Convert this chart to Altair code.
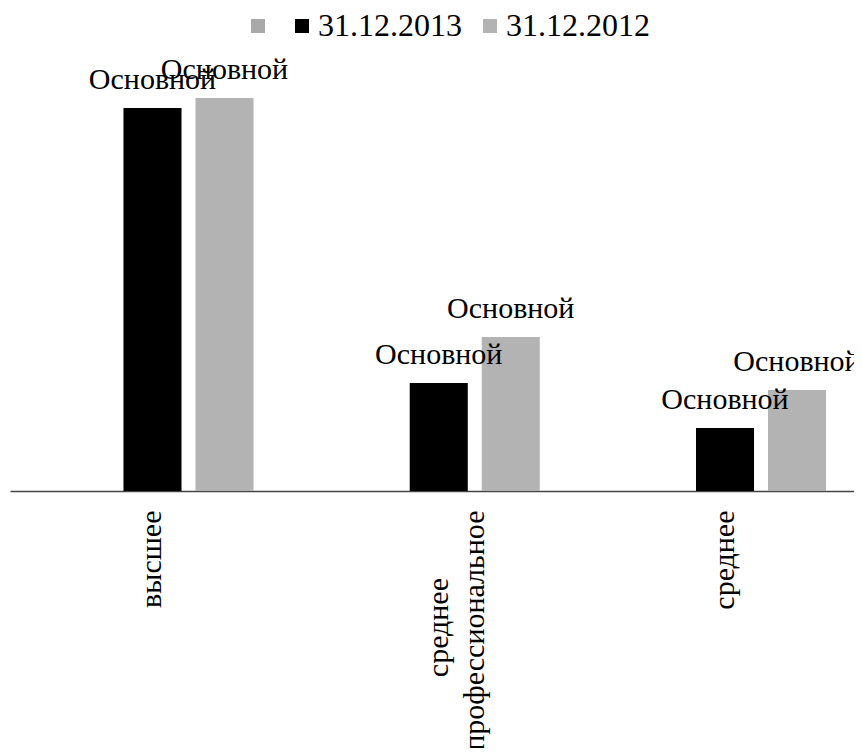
import json
import altair as alt
import pandas as pd

FONT = "Liberation Serif"
NBSP = "\u00a0"
ZWSP = "\u200b"

categories = ["высшее", "среднее профессиональное", "среднее"]
axis_label_lines = [["высшее"], ["среднее" + NBSP * 9 + ZWSP, "профессиональное"], ["среднее"]]
blank_series = NBSP * 2 + ZWSP
series = ["31.12.2013", "31.12.2012"]
values_2013 = [383, 108, 63]
values_2012 = [393, 154, 101]
bar_labels_2013 = ["Основной", "Основной", "Основной"]
bar_labels_2012 = ["Основной", "Основной", "Основной"]
legend_order = [blank_series] + series
colors = ["#a9a9a9", "#000000", "#b3b3b3"]

rows = []
for c, v, l in zip(categories, values_2013, bar_labels_2013):
    rows.append({"cat": c, "series": series[0], "value": v, "label": l})
for c, v, l in zip(categories, values_2012, bar_labels_2012):
    rows.append({"cat": c, "series": series[1], "value": v, "label": l})
df = pd.DataFrame(rows)

expr = "datum.value"
for c, lines in reversed(list(zip(categories, axis_label_lines))):
    expr = f"datum.value == {json.dumps(c, ensure_ascii=False)} ? {json.dumps(lines, ensure_ascii=False)} : ({expr})"

x = alt.X(
    "cat:N",
    sort=categories,
    scale=alt.Scale(paddingInner=0.2, paddingOuter=0.0742, align=0.659, round=False),
    axis=alt.Axis(
        title=None, labelAngle=270, labelAlign="right", labelBaseline="middle",
        labelPadding=19, ticks=False, tickSize=0, domainColor="#444", domainWidth=1.5,
        labelFont=FONT, labelFontSize=30, labelColor="black", labelLimit=400,
        labelLineHeight=36, labelExpr=expr, grid=False,
    ),
)
xoff = alt.XOffset(
    "series:N", sort=legend_order,
    scale=alt.Scale(domain=legend_order, paddingInner=0.194, paddingOuter=0.187),
)
y = alt.Y("value:Q", scale=alt.Scale(domain=[0, 450], nice=False, zero=True), axis=None)
color = alt.Color(
    "series:N",
    scale=alt.Scale(domain=legend_order, range=colors),
    legend=alt.Legend(
        title=None, orient="none", legendX=232, legendY=-31, direction="horizontal",
        symbolType="square", symbolSize=196, symbolStrokeWidth=0, symbolOpacity=1,
        labelFont=FONT, labelFontSize=32, labelColor="black", labelOffset=0,
        columnPadding=12, labelLimit=400,
    ),
)

base = alt.Chart(df)
bars = base.mark_bar().encode(x=x, xOffset=xoff, y=y, color=color)
text = base.mark_text(dy=-19, baseline="alphabetic", font=FONT, fontSize=30, color="black").encode(
    x=x, xOffset=xoff, y=y, text="label:N"
)

chart = alt.layer(bars, text).properties(
    width=844, height=450,
    autosize=alt.AutoSizeParams(type="none"),
    padding={"left": 2, "top": 33, "right": 0, "bottom": 257},
).configure(font=FONT).configure_view(stroke=None)

chart.save("out.html", embed_options={"renderer": "svg", "actions": False})
